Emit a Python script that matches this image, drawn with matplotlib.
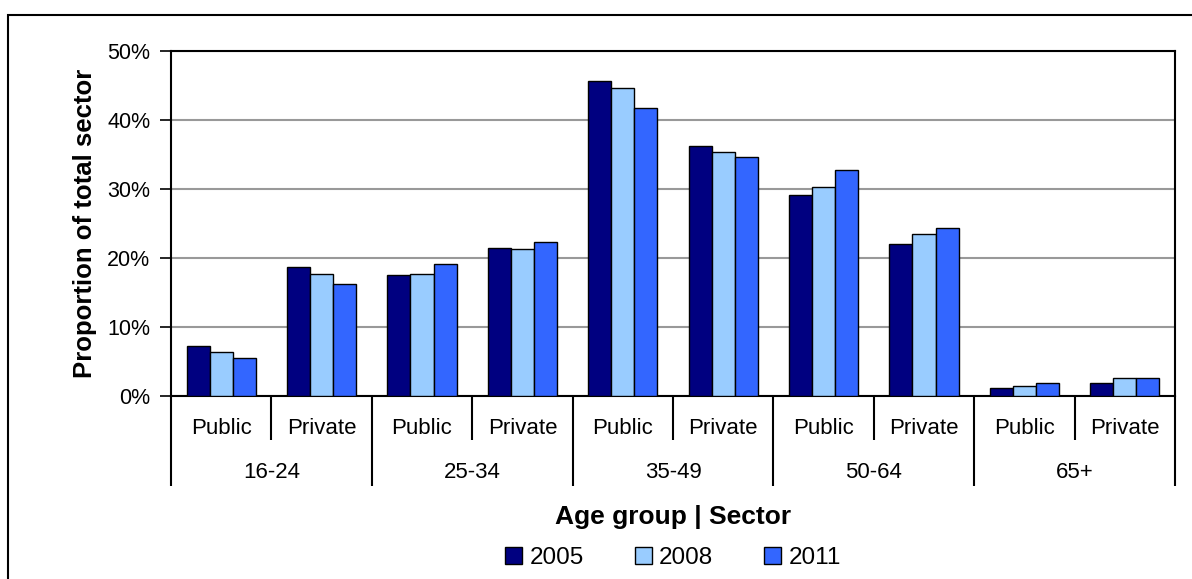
import matplotlib
matplotlib.use("Agg")
import matplotlib.pyplot as plt
from matplotlib.patches import Rectangle, Patch
import matplotlib.transforms as mtransforms
import numpy as np

plt.rcParams['font.family'] = ['Liberation Sans', 'DejaVu Sans']

age_groups = ["16-24", "25-34", "35-49", "50-64", "65+"]
sectors = ["Public", "Private"]
years = ["2005", "2008", "2011"]
v2005 = [7.2, 18.7, 17.5, 21.4, 45.7, 36.3, 29.1, 22.1, 1.2, 1.9]
v2008 = [6.4, 17.7, 17.7, 21.3, 44.7, 35.3, 30.3, 23.5, 1.4, 2.6]
v2011 = [5.5, 16.3, 19.2, 22.3, 41.8, 34.6, 32.7, 24.4, 1.9, 2.6]
colors = ["#000080", "#99CCFF", "#3366FF"]
yticks = [0, 10, 20, 30, 40, 50]

W, H = 1192, 579
fig = plt.figure(figsize=(W / 100, H / 100), dpi=100)
fig.patch.set_facecolor("white")

# outer frame
fig.patches.append(Rectangle((8 / W, -0.05), 1.2, 1 - 15 / H + 0.05, transform=fig.transFigure,
                             fill=False, edgecolor="black", linewidth=1.5, zorder=0))

left, right, top, bottom = 171, 1175, 51, 396
ax = fig.add_axes([left / W, 1 - bottom / H, (right - left) / W, (bottom - top) / H])

n = len(v2005)
x = np.arange(n)
bw = 0.23
series = [v2005, v2008, v2011]
for i, (vals, c, yr) in enumerate(zip(series, colors, years)):
    ax.bar(x + (i - 1) * bw, vals, width=bw, color=c, edgecolor="black", linewidth=1.0,
           label=yr, zorder=3)

ax.set_xlim(-0.5, n - 0.5)
ax.set_ylim(0, 50)
ax.set_yticks(yticks)
ax.set_yticklabels([f"{t}%" for t in yticks], fontsize=15.5)
ax.tick_params(axis="y", direction="out", length=8, width=1.2, pad=7)
ax.set_xticks([])
ax.yaxis.grid(True, color="#999999", linewidth=1.5, zorder=0)
ax.set_axisbelow(True)
for s in ax.spines.values():
    s.set_linewidth(1.5)
    s.set_color("black")

ax.set_ylabel("Proportion of total sector", fontsize=18.5, fontweight="bold", labelpad=7)

trans = mtransforms.blended_transform_factory(ax.transData, ax.transAxes)
ph = bottom - top
y_inner = (bottom - 440) / ph
y_group = (bottom - 486) / ph
y_lab1 = (bottom - 428) / ph
y_lab2 = (bottom - 473) / ph

for i in range(n):
    ax.text(x[i], y_lab1, sectors[i % 2], transform=trans, ha="center", va="center", fontsize=16)
for b in range(n + 1):
    xb = b - 0.5
    y_end = y_group if b % 2 == 0 else y_inner
    ax.plot([xb, xb], [0, y_end], transform=trans, color="black", linewidth=1.5,
            clip_on=False, solid_capstyle="butt")
for g, name in enumerate(age_groups):
    ax.text(2 * g + 0.5, y_lab2, name, transform=trans, ha="center", va="center", fontsize=16)

fig.text((left + right) / 2 / W, 1 - 517 / H, "Age group | Sector", ha="center", va="center",
         fontsize=19, fontweight="bold")

handles = [Patch(facecolor=c, edgecolor="black", linewidth=1.0) for c in colors]
fig.legend(handles, years, loc="center", bbox_to_anchor=((left + right) / 2 / W, 1 - 558 / H),
           ncol=3, frameon=False, fontsize=17.5, handlelength=0.7, handleheight=0.7,
           handletextpad=0.3, columnspacing=2.1, borderaxespad=0)

fig.savefig("out.png", dpi=100, facecolor="white")
